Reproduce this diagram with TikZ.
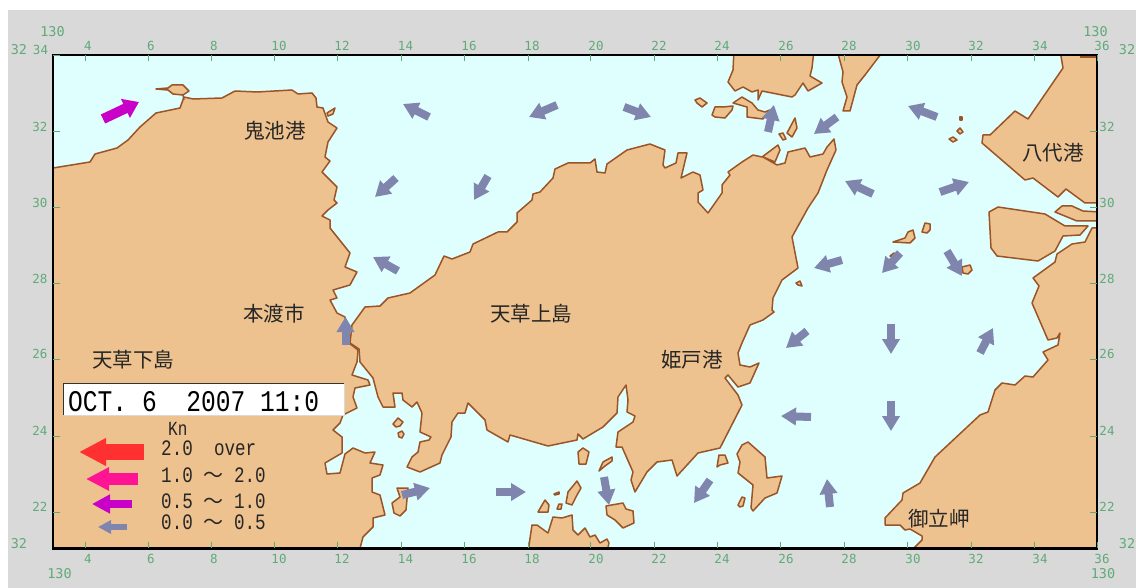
\documentclass[tikz,border=0pt]{standalone}
\usepackage{fontspec}
\usetikzlibrary{arrows.meta}
\newfontfamily\jpfont{Noto Sans CJK JP}
\newfontfamily\datefont[FakeStretch=0.82]{Liberation Mono}
\newfontfamily\legfont[FakeStretch=0.8]{Liberation Mono}
\newfontfamily\axisfont{DejaVu Sans Mono}
\definecolor{panel}{HTML}{D9D9D9}
\definecolor{water}{HTML}{DFFFFF}
\definecolor{landc}{HTML}{EDC28F}
\definecolor{coast}{HTML}{9A5426}
\definecolor{axisc}{HTML}{5FAA78}
\definecolor{slow}{HTML}{8085AE}
\definecolor{medium}{HTML}{C800C8}
\definecolor{fast}{HTML}{FF1493}
\definecolor{vfast}{HTML}{FF3030}
\tikzset{
  land/.style={fill=landc,draw=coast,line width=1.5pt,line join=round},
  place/.style={font=\jpfont\fontsize{20.5}{20.5}\selectfont,text=black!85,inner sep=0pt},
  tick/.style={draw=axisc,line width=1pt},
  axlabel/.style={font=\axisfont\fontsize{12.5}{12.5}\selectfont,text=axisc,inner sep=0pt},
  axcorner/.style={font=\axisfont\fontsize{13.5}{13.5}\selectfont,text=axisc,inner sep=0pt},
  legtext/.style={font=\legfont\fontsize{22}{22}\selectfont,text=black!85,inner sep=0pt,anchor=base west},
  cur/.style={draw=slow,line width=8pt,-{Triangle[width=17pt,length=15pt,fill=slow]}},
  curmag/.style={draw=medium,line width=10pt,-{Triangle[width=20pt,length=15pt,fill=medium]}},
}
\begin{document}
\begin{tikzpicture}[x=1pt,y=-1pt]
\useasboundingbox (0,0) rectangle (1136,588);
\fill[panel] (8,10) rectangle (1136,588);
\fill[water] (53,55) rectangle (1097,548.5);
\begin{scope}
\clip (53,55) rectangle (1097,548.5);
% Shimoshima (west)
\draw[land] (50,168) -- (53,168) -- (90,162) -- (95,154) -- (117,148) -- (128,140) -- (140,127) -- (156,113) -- (180,108) -- (184,97) -- (193,99) -- (222,98) -- (235,91) -- (257,92) -- (292,90) -- (298,94) -- (312,93) -- (316,98) -- (317,107) -- (323,108) -- (328,122) -- (337,128) -- (328,142) -- (325,157) -- (330,161) -- (322,172) -- (337,187) -- (334,200) -- (337,203) -- (328,210) -- (322,216) -- (330,220) -- (330,228) -- (350,253) -- (345,267) -- (357,272) -- (350,285) -- (333,290) -- (337,298) -- (330,300) -- (337,313) -- (345,317) -- (349,343) -- (358,350) -- (357,362) -- (352,375) -- (368,380) -- (370,385) -- (355,388) -- (353,397) -- (357,408) -- (343,415) -- (340,423) -- (333,430) -- (342,437) -- (342,453) -- (325,463) -- (327,474) -- (340,473) -- (345,454) -- (353,448) -- (365,453) -- (375,452) -- (370,463) -- (383,465) -- (380,475) -- (372,478) -- (372,492) -- (380,495) -- (385,515) -- (373,518) -- (373,527) -- (363,537) -- (359,552) -- (50,552) -- cycle;
\draw[land] (156,89) -- (168,88) -- (172,85) -- (183,85) -- (189,91) -- (183,95) -- (173,94) -- (168,90) -- cycle;
\draw[coast,line width=1.5pt] (183,95) -- (184,100);
\draw[land] (327,113) -- (335,108) -- (333,114) -- (328,116) -- cycle;
% Kamishima (centre)
\draw[land] (388,298) -- (410,293) -- (435,275) -- (444,256) -- (452,259) -- (470,252) -- (473,244) -- (498,232) -- (507,232) -- (517,222) -- (517,213) -- (532,200) -- (533,194) -- (540,192) -- (553,178) -- (555,169) -- (568,163) -- (590,163) -- (595,159) -- (597,172) -- (605,173) -- (607,164) -- (627,150) -- (650,144) -- (665,150) -- (663,165) -- (665,168) -- (676,163) -- (678,153) -- (687,153) -- (681,178) -- (693,172) -- (700,175) -- (703,190) -- (698,193) -- (698,202) -- (708,213) -- (722,193) -- (722,185) -- (730,175) -- (728,172) -- (742,162) -- (753,155) -- (762,157) -- (778,145) -- (780,150) -- (775,162) -- (763,157) -- (777,165) -- (785,163) -- (788,152) -- (805,148) -- (810,157) -- (823,154) -- (827,147) -- (834,139) -- (836,150) -- (827,170) -- (818,193) -- (808,208) -- (792,237) -- (798,268) -- (782,280) -- (773,298) -- (772,310) -- (774,312) -- (763,320) -- (750,325) -- (742,343) -- (738,353) -- (740,365) -- (750,367) -- (759,363) -- (750,383) -- (738,387) -- (728,375) -- (725,378) -- (738,395) -- (742,405) -- (720,448) -- (698,453) -- (677,476) -- (672,460) -- (657,462) -- (647,472) -- (635,492) -- (631,480) -- (633,472) -- (622,447) -- (616,447) -- (618,432) -- (633,422) -- (635,416) -- (627,412) -- (628,400) -- (626,385) -- (618,397) -- (617,413) -- (603,427) -- (583,439) -- (578,434) -- (577,440) -- (548,446) -- (510,435) -- (508,442) -- (487,430) -- (485,420) -- (468,403) -- (465,413) -- (458,413) -- (452,422) -- (451,437) -- (442,455) -- (440,463) -- (420,472) -- (407,467) -- (412,457) -- (418,452) -- (420,442) -- (429,440) -- (431,437) -- (420,432) -- (422,413) -- (417,402) -- (412,407) -- (403,400) -- (402,393) -- (393,393) -- (395,407) -- (383,407) -- (378,397) -- (373,378) -- (360,362) -- (359,349) -- (350,343) -- (352,325) -- (365,307) -- (380,306) -- cycle;
% north lands
\draw[land] (734,50) -- (733,70) -- (728,82) -- (735,91) -- (743,87) -- (752,92) -- (758,90) -- (758,100) -- (762,91) -- (792,97) -- (795,95) -- (803,83) -- (808,91) -- (822,83) -- (810,76) -- (812,68) -- (814,50) -- cycle;
\draw[land] (837,50) -- (843,72) -- (842,82) -- (847,97) -- (843,111) -- (850,111) -- (857,85) -- (865,75) -- (884,50) -- cycle;
\draw[land] (695,100) -- (700,98) -- (707,103) -- (702,107) -- (697,103) -- cycle;
\draw[land] (712,115) -- (715,107) -- (723,107) -- (733,106) -- (732,110) -- (725,118) -- (715,117) -- cycle;
\draw[land] (733,103) -- (742,97) -- (752,103) -- (758,110) -- (765,112) -- (770,110) -- (763,119) -- (747,117) -- (747,107) -- cycle;
\draw[land] (787,133) -- (795,118) -- (797,128) -- (792,137) -- cycle;
\draw[land] (779,134) -- (783,133) -- (786,139) -- (783,140) -- cycle;
% Yatsushiro
\draw[land] (1060,50) -- (1063,68) -- (1028,119) -- (1015,111) -- (990,135) -- (983,135) -- (982,143) -- (1025,180) -- (1033,178) -- (1058,197) -- (1066,189) -- (1085,203) -- (1100,203) -- (1100,50) -- cycle;
\draw[coast,line width=1.5pt] (1080,57) -- (1096,57);
\draw[land] (1055,212) -- (1062,206) -- (1072,206) -- (1083,211) -- (1100,212) -- (1100,221) -- (1077,221) -- cycle;
\draw[land] (989,212) -- (998,207) -- (1045,214) -- (1065,226) -- (1088,226) -- (1080,235) -- (1063,236) -- (1055,251) -- (1038,261) -- (997,256) -- (991,248) -- cycle;
% south-east land
\draw[land] (1100,228) -- (1092,228) -- (1085,242) -- (1072,244) -- (1057,254) -- (1055,262) -- (1033,278) -- (1039,286) -- (1032,303) -- (1048,340) -- (1057,338) -- (1060,333) -- (1058,345) -- (1043,352) -- (1048,360) -- (1033,377) -- (1025,376) -- (1015,385) -- (1002,383) -- (995,390) -- (988,412) -- (980,415) -- (950,443) -- (935,457) -- (920,483) -- (903,493) -- (902,500) -- (885,518) -- (885,525) -- (900,525) -- (905,530) -- (910,529) -- (922,536) -- (922,540) -- (910,552) -- (1100,552) -- cycle;
% small eastern islands
\draw[land] (960,117) -- (962,117) -- (962,120) -- (960,120) -- cycle;
\draw[land] (957,131) -- (960,128) -- (963,132) -- (960,134) -- cycle;
\draw[land] (949,139) -- (953,137) -- (957,140) -- (953,142) -- cycle;
\draw[land] (893,242) -- (905,238) -- (908,232) -- (913,230) -- (915,238) -- (910,243) -- cycle;
\draw[land] (922,232) -- (925,223) -- (930,224) -- (930,230) -- (927,233) -- cycle;
\draw[land] (890,256) -- (894,253) -- (896,256) -- (893,257) -- cycle;
\draw[land] (962,267) -- (970,265) -- (972,270) -- (968,274) -- (963,273) -- cycle;
\draw[land] (796,283) -- (800,281) -- (802,286) -- (798,285) -- cycle;
% southern islands
\draw[land] (393,424) -- (398,418) -- (403,422) -- (400,426) -- (396,427) -- cycle;
\draw[land] (398,433) -- (402,431) -- (404,434) -- (402,438) -- (399,437) -- cycle;
\draw[land] (397,488) -- (408,488) -- (406,510) -- (400,516) -- (394,513) -- (392,503) -- (400,497) -- cycle;
\draw[land] (578,452) -- (583,448) -- (589,452) -- (586,464) -- (579,464) -- cycle;
\draw[land] (599,471) -- (603,462) -- (612,457) -- (612,461) -- (605,466) -- cycle;
\draw[land] (554,494) -- (559,492) -- (559,494) -- (555,495) -- cycle;
\draw[land] (566,503) -- (568,492) -- (577,481) -- (581,488) -- (577,495) -- (572,505) -- cycle;
\draw[land] (557,509) -- (559,504) -- (562,504) -- (561,509) -- cycle;
\draw[land] (538,512) -- (545,500) -- (549,505) -- (548,512) -- cycle;
\draw[land] (606,506) -- (623,503) -- (626,509) -- (633,511) -- (634,523) -- (623,528) -- (615,520) -- (607,515) -- cycle;
\draw[land] (528,552) -- (532,525) -- (537,525) -- (548,533) -- (553,517) -- (562,518) -- (572,515) -- (573,530) -- (578,535) -- (585,528) -- (590,537) -- (595,535) -- (600,543) -- (607,539) -- (609,543) -- (607,552) -- cycle;
\draw[land] (717,467) -- (719,455) -- (725,455) -- (728,463) -- (720,465) -- cycle;
\draw[land] (738,505) -- (742,497) -- (745,498) -- (743,506) -- (740,507) -- cycle;
\draw[land] (737,454) -- (742,445) -- (748,442) -- (765,457) -- (767,478) -- (782,476) -- (777,493) -- (765,498) -- (753,511) -- (751,508) -- (753,485) -- (738,473) -- (740,462) -- cycle;
\end{scope}
% frame
\draw[black,line width=2.5pt] (53,55) rectangle (1097,548.5);
% ticks and axis labels
\foreach \n/\xx in {4/85,6/148,8/211.5,10/274.5,12/337.5,14/401,16/464,18/528,20/590.5,22/654.5,24/717,26/780,28/844,30/907,32/971,34/1034,36/1097}{
  \draw[tick] (\xx,55) -- (\xx,61.5);
  \draw[tick] (\xx,541.5) -- (\xx,548);
}
\foreach \n/\xx in {4/88,6/151,8/214,10/279,12/342,14/405.5,16/469,18/532,20/596,22/659,24/722,26/786,28/849,30/913,32/976,34/1040}{
  \node[axlabel] (top\n) at (\xx,46) {\n};
  \node[axlabel] (bot\n) at (\xx,559) {\n};
}
\foreach \n/\yy in {32/132,30/208,28/284,26/359,24/436,22/512}{
  \draw[tick] (53,\yy) -- (60,\yy);
  \draw[tick] (1090,\yy) -- (1097,\yy);
  \node[axlabel] (lft\n) at (40,\yy-5) {\n};
  \node[axlabel] (rgt\n) at (1107,\yy-5) {\n};
}
\draw[tick] (53,56) -- (60,56);
\node[axcorner] (nwlon) at (52.5,32) {130};
\node[axcorner] (nwlat) at (19,50) {32};
\node[axlabel] (nwmin) at (40.5,50) {34};
\node[axcorner] (nelon) at (1095.5,32) {130};
\node[axlabel] (nemin) at (1102,46) {36};
\node[axcorner] (nelat) at (1127,50) {32};
\node[axcorner] (swlat) at (19,544) {32};
\node[axcorner] (swlon) at (59.5,574) {130};
\node[axlabel] (semin) at (1102,559) {36};
\node[axcorner] (selon) at (1103,574) {130};
\node[axcorner] (selat) at (1127,544) {32};
% place names
\node[place] (onike) at (275,131) {鬼池港};
\node[place] (hondo) at (274,314) {本渡市};
\node[place] (shimo) at (133,360) {天草下島};
\node[place] (kami) at (531,314) {天草上島};
\node[place] (himedo) at (692,360) {姫戸港};
\node[place] (yatsu) at (1053,153) {八代港};
\node[place] (mitate) at (939,519) {御立岬};
% date box
\fill[white] (63,383) rectangle (344,415);
\draw[black!80,line width=1pt] (63.5,414.5) -- (63.5,383.5) -- (344,383.5);
\draw[black!15,line width=1pt] (63.5,415) -- (344,415) -- (344,383.5);
\node[font=\datefont\fontsize{30}{30}\selectfont,inner sep=0pt,anchor=base west] (stamp) at (68,411) {OCT.\ 6\ \ 2007\ 11:0};
% current arrows
\draw[curmag] (103,119) -- (139,102);
\draw[cur] (429,117) -- (403,104);
\draw[cur] (557,105) -- (529,117);
\draw[cur] (624,107) -- (651,117);
\draw[cur] (396,178) -- (375,197);
\draw[cur] (488,176) -- (474,200);
\draw[cur] (398,271) -- (373,257);
\draw[cur] (345.5,345) -- (345.5,317);
\draw[cur] (402,495) -- (430,488);
\draw[cur] (496,492) -- (526,492);
\draw[cur] (604,477) -- (609,505);
\draw[cur] (710,480) -- (694,503);
\draw[cur] (768,132) -- (774,105);
\draw[cur] (837,117) -- (814,134);
\draw[cur] (937,117) -- (908,106);
\draw[cur] (873,194) -- (845,181);
\draw[cur] (940,192) -- (969,182);
\draw[cur] (842,260) -- (814,268);
\draw[cur] (900,253) -- (882,273);
\draw[cur] (947,251) -- (962,276);
\draw[cur] (807,331) -- (786,348);
\draw[cur] (891,324) -- (891,354);
\draw[cur] (980,353) -- (993,328);
\draw[cur] (891,401) -- (891,431);
\draw[cur] (811,417) -- (781,416);
\draw[cur] (830,507) -- (827,479);
% legend
\node[legtext,font=\legfont\fontsize{20}{20}\selectfont] (unit) at (168,435.5) {Kn};
\draw[draw=vfast,line width=16pt,-{Triangle[width=26pt,length=27pt,fill=vfast]}] (144,452) -- (79,452);
\draw[draw=fast,line width=12pt,-{Triangle[width=22pt,length=23pt,fill=fast]}] (138,479) -- (86,479);
\draw[draw=medium,line width=8pt,-{Triangle[width=18pt,length=18pt,fill=medium]}] (132,504) -- (92,504);
\draw[draw=slow,line width=6pt,-{Triangle[width=13pt,length=13pt,fill=slow]}] (127,527) -- (98,527);
\node[legtext] (lega) at (161,455) {2.0\ \ over};
\node[legtext] (legb) at (161,482) {1.0\ {\jpfont\fontsize{20}{20}\selectfont ～}\ 2.0};
\node[legtext] (legc) at (161,508) {0.5\ {\jpfont\fontsize{20}{20}\selectfont ～}\ 1.0};
\node[legtext] (legd) at (161,529) {0.0\ {\jpfont\fontsize{20}{20}\selectfont ～}\ 0.5};
\end{tikzpicture}
\end{document}
